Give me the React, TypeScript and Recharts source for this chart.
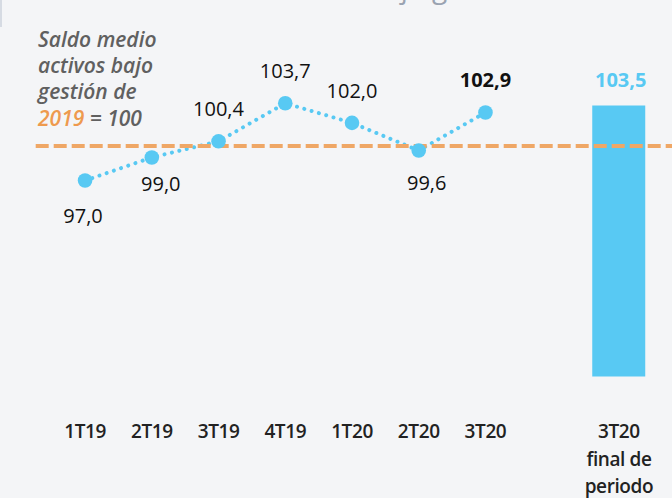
import {
  ComposedChart,
  Bar,
  Line,
  XAxis,
  YAxis,
  ReferenceLine,
  LabelList,
} from "recharts";

// ---------------------------------------------------
// DATA
// ---------------------------------------------------
const quarters = [
  "1T19",
  "2T19",
  "3T19",
  "4T19",
  "1T20",
  "2T20",
  "3T20",
  "",
  "3T20\nfinal de\nperiodo",
];

// saldo medio trimestral (base 2019 = 100)
const saldoMedio = [97.0, 99.0, 100.4, 103.7, 102.0, 99.6, 102.9];

// saldo a final del periodo, solo en la ultima categoria
const saldoFinal = [null, null, null, null, null, null, null, null, 103.5];

const baseValue = 100;

const data = quarters.map((q, i) => ({
  name: q,
  medio: i < saldoMedio.length ? saldoMedio[i] : null,
  final: saldoFinal[i],
}));

// ---------------------------------------------------
// STYLE
// ---------------------------------------------------
const BLUE = "#58C9F3";
const ORANGE = "#EFA766";
const FONT = "'Open Sans', sans-serif";

// labels under the point (index -> [dx, baseline offset])
const belowLabels: Record<number, [number, number]> = {
  0: [-2, 42],
  1: [9, 34],
  5: [8, 39],
};

const fmt = (v: number) => v.toFixed(1).replace(".", ",");

function QuarterTick({ x, y, payload }: any) {
  const lines = String(payload.value).split("\n");
  return (
    <g transform={`translate(${x},${y})`}>
      {lines.map((t, i) => (
        <text
          key={i}
          x={0}
          y={61.5 + i * 27.5}
          textAnchor="middle"
          fontFamily={FONT}
          fontSize={19}
          fontWeight={600}
          letterSpacing={-0.4}
          fill="#222"
        >
          {t}
        </text>
      ))}
    </g>
  );
}

function PointLabel({ x, y, value, index }: any) {
  if (value == null) return null;
  const below = belowLabels[index];
  const last = index === saldoMedio.length - 1;
  return (
    <text
      x={x + (below ? below[0] : 0)}
      y={y + (below ? below[1] : -25)}
      textAnchor="middle"
      fontFamily={FONT}
      fontSize={20}
      fontWeight={last ? 700 : 400}
      fill="#111"
    >
      {fmt(value)}
    </text>
  );
}

function BarLabel({ x, y, width, value }: any) {
  if (value == null) return null;
  return (
    <text
      x={x + width / 2 + 2}
      y={y - 19}
      textAnchor="middle"
      fontFamily={FONT}
      fontSize={20}
      fontWeight={700}
      fill={BLUE}
    >
      {fmt(value)}
    </text>
  );
}

// ---------------------------------------------------
// MAIN COMPONENT
// ---------------------------------------------------
export default function App() {
  return (
    <div
      style={{
        position: "absolute",
        left: 0,
        top: 0,
        width: 672,
        height: 498,
        background: "#F4F5F7",
        overflow: "hidden",
      }}
    >
      {/* recorte del titulo y borde superior */}
      <div
        style={{
          position: "absolute",
          left: 0,
          top: 0,
          width: 2,
          height: 27,
          background: "#D6DBE3",
        }}
      />

      <ComposedChart
        width={672}
        height={498}
        data={data}
        margin={{ top: 30.6, right: 19.7, bottom: 0, left: 51.7 }}
        barCategoryGap="10%"
      >
        <text
          x={368}
          y={-2}
          fontFamily={FONT}
          fontSize={28}
          fill="#9AA3B1"
        >
          bajo gestión
        </text>

        {/* LEYENDA */}
        <text
          fontFamily={FONT}
          fontSize={21}
          fontStyle="italic"
          fontWeight={600}
          fill="#606060"
        >
          <tspan x={38} y={47}>
            Saldo medio
          </tspan>
          <tspan x={38} y={73}>
            activos bajo
          </tspan>
          <tspan x={38} y={99}>
            gestión de
          </tspan>
          <tspan x={38} y={126}>
            <tspan fill="#EE9A4E">2019</tspan> = 100
          </tspan>
        </text>

        <XAxis
          dataKey="name"
          axisLine={false}
          tickLine={false}
          tickSize={0}
          tickMargin={0}
          interval={0}
          height={121.4}
          tick={<QuarterTick />}
        />
        <YAxis hide domain={[80, 110]} />

        <Bar dataKey="final" fill={BLUE} isAnimationActive={false}>
          <LabelList dataKey="final" content={<BarLabel />} />
        </Bar>

        <Line
          type="linear"
          dataKey="medio"
          stroke={BLUE}
          strokeWidth={4}
          strokeDasharray="0.01 7.6"
          strokeLinecap="round"
          dot={{ r: 7.3, fill: BLUE, stroke: "none" }}
          activeDot={false}
          isAnimationActive={false}
        >
          <LabelList dataKey="medio" content={<PointLabel />} />
        </Line>

        <ReferenceLine
          y={baseValue}
          shape={(p: any) => (
            <line
              x1={p.x1 - 16}
              x2={p.x2 + 20}
              y1={p.y1}
              y2={p.y2}
              stroke={ORANGE}
              strokeWidth={4}
              strokeDasharray="13 5"
            />
          )}
        />
      </ComposedChart>
    </div>
  );
}
